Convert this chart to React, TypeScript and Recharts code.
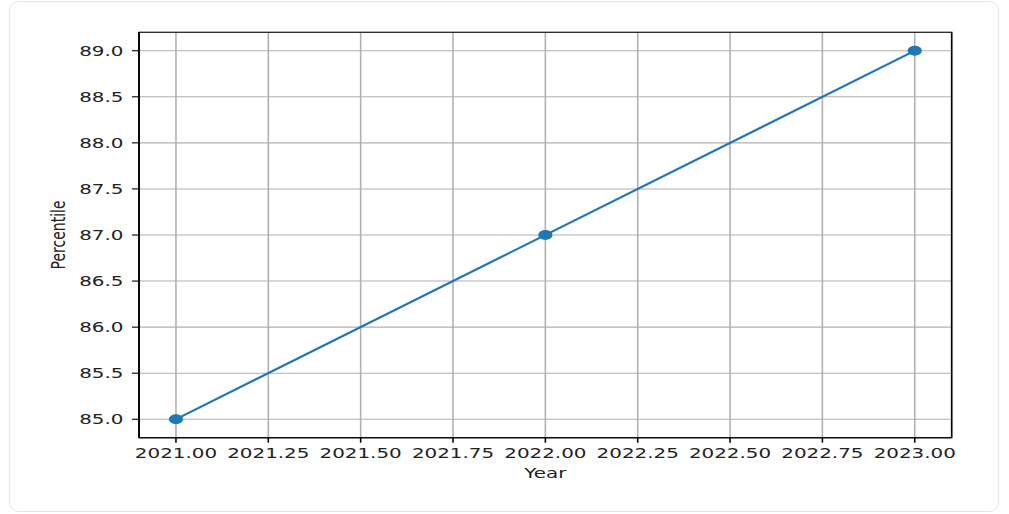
import React from 'react';
import { LineChart, Line, XAxis, YAxis, CartesianGrid, ReferenceArea } from 'recharts';

const years = [2021, 2022, 2023];
const percentiles = [85, 87, 89];
const xTicks = [2021, 2021.25, 2021.5, 2021.75, 2022, 2022.25, 2022.5, 2022.75, 2023];
const yTicks = [85, 85.5, 86, 86.5, 87, 87.5, 88, 88.5, 89];
const xDomain = [2020.9, 2023.1];
const yDomain = [84.8, 89.2];

const data = years.map((y, i) => ({ year: y, percentile: percentiles[i] }));

const FONT = 'DejaVu Sans';
const TEXT = '#222';
const STRETCH = 1.42;

const YearLabel = (props: any) => {
  const vb = props.viewBox || { x: 97.9, y: 437.7, width: 572.3, height: 50 };
  return (
    <text x={vb.x + vb.width / 2} y={vb.y + 40} textAnchor="middle" fill={TEXT} fontSize={14} fontFamily={FONT}>
      Year
    </text>
  );
};

const PercentileLabel = (props: any) => {
  const vb = props.viewBox || { x: 0, y: 32.3, width: 97.9, height: 405.4 };
  const cy = vb.y + vb.height / 2;
  return (
    <text transform={`translate(45.8, ${cy}) rotate(-90)`} textAnchor="middle" fill={TEXT} fontSize={14} fontFamily={FONT}>
      Percentile
    </text>
  );
};

export default function App() {
  return (
    <div style={{ position: 'absolute', left: 0, top: 0, width: 1009, height: 514, background: '#fff' }}>
      <div
        style={{
          position: 'absolute',
          left: 9,
          top: 1,
          width: 990,
          height: 511,
          border: '1px solid #e4e4e4',
          borderRadius: 10,
          boxSizing: 'border-box',
        }}
      />
      <div
        style={{
          position: 'absolute',
          left: 0,
          top: 0,
          width: 700,
          height: 514,
          transform: `scaleX(${STRETCH})`,
          transformOrigin: '0 0',
        }}
      >
        <LineChart width={700} height={514} data={data} margin={{ top: 32.3, right: 29.8, bottom: 26.3, left: 0 }}>
          <CartesianGrid stroke="#b0b0b0" strokeWidth={1.1} />
          <XAxis
            dataKey="year"
            type="number"
            domain={xDomain}
            ticks={xTicks}
            allowDataOverflow
            tickFormatter={(v: number) => v.toFixed(2)}
            height={50}
            tickSize={5}
            tickMargin={5}
            tickLine={{ stroke: '#000', strokeWidth: 1.1 }}
            axisLine={{ stroke: '#000', strokeWidth: 1.1 }}
            tick={{ fill: TEXT, fontSize: 14, fontFamily: FONT }}
            interval={0}
            label={<YearLabel />}
          />
          <YAxis
            type="number"
            domain={yDomain}
            ticks={yTicks}
            allowDataOverflow
            tickFormatter={(v: number) => v.toFixed(1)}
            width={97.9}
            tickSize={5}
            tickMargin={6}
            tickLine={{ stroke: '#000', strokeWidth: 1.1 }}
            axisLine={{ stroke: '#000', strokeWidth: 1.1 }}
            tick={{ fill: TEXT, fontSize: 14, fontFamily: FONT }}
            interval={0}
            label={<PercentileLabel />}
          />
          <ReferenceArea
            x1={xDomain[0]}
            x2={xDomain[1]}
            y1={yDomain[0]}
            y2={yDomain[1]}
            fill="none"
            fillOpacity={0}
            stroke="#000"
            strokeWidth={1.1}
            ifOverflow="visible"
          />
          <Line
            dataKey="percentile"
            stroke="#1f77b4"
            strokeWidth={2}
            isAnimationActive={false}
            dot={{ r: 5, fill: '#1f77b4', stroke: '#1f77b4', strokeWidth: 0 }}
            activeDot={false}
          />
        </LineChart>
      </div>
    </div>
  );
}
